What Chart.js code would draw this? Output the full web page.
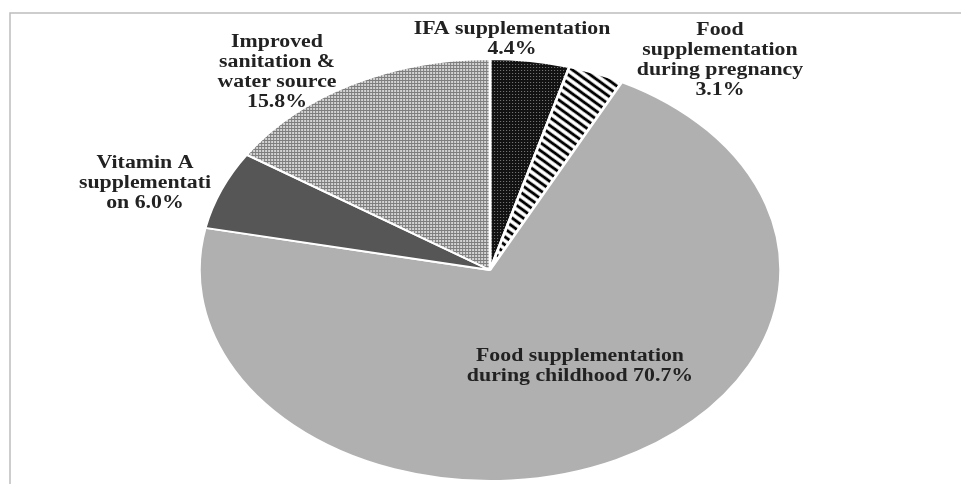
<!DOCTYPE html>
<html lang="en">
<head>
    <meta charset="UTF-8">
    <title>Interventions pie</title>
    <style>
        body {
            margin: 0;
            padding: 0;
            background: #ffffff;
        }
        canvas {
            display: block;
        }
    </style>
</head>
<body>
    <canvas id="pie" width="961" height="484"></canvas>

    <script src="https://cdn.jsdelivr.net/npm/chart.js"></script>
    <script>
        // Data (clockwise from 12 o'clock)
        const categories = [
            "IFA supplementation",
            "Food supplementation during pregnancy",
            "Food supplementation during childhood",
            "Vitamin A supplementation",
            "Improved sanitation & water source"
        ];
        const shares = [4.4, 3.1, 70.7, 6.0, 15.8];

        // Label text as it is wrapped in the picture
        const labelLines = [
            ["IFA supplementation", "4.4%"],
            ["Food", "supplementation", "during pregnancy", "3.1%"],
            ["Food supplementation", "during childhood 70.7%"],
            ["Vitamin A", "supplementati", "on 6.0%"],
            ["Improved", "sanitation &", "water source", "15.8%"]
        ];

        // Layout: where each label block sits (centre x, first line y)
        const labelAnchors = [
            [512, 29],
            [720, 30],
            [580, 356],
            [145, 163],
            [277, 42]
        ];
        const lineGap = 20;
        const stretchX = 292 / 212; // pie is drawn as an ellipse

        // Fill patterns
        function makePattern(size, draw) {
            const c = document.createElement("canvas");
            c.width = size;
            c.height = size;
            const g = c.getContext("2d");
            draw(g, size);
            return c;
        }

        const ctx = document.getElementById("pie").getContext("2d");

        // undo the horizontal stretch so the dots stay square
        function unstretched(p) {
            if (p.setTransform) p.setTransform(new DOMMatrix().scale(1 / stretchX, 1));
            return p;
        }

        const dotsDark = unstretched(ctx.createPattern(makePattern(3, (g) => {
            g.fillStyle = "#121212";
            g.fillRect(0, 0, 3, 3);
            g.fillStyle = "#808080";
            g.fillRect(1, 1, 1, 1);
        }), "repeat"));

        const stripes = ctx.createPattern(makePattern(8, (g, s) => {
            g.fillStyle = "#ffffff";
            g.fillRect(0, 0, s, s);
            g.strokeStyle = "#000000";
            g.lineWidth = 2.6;
            g.beginPath();
            g.moveTo(-2, -2); g.lineTo(s + 2, s + 2);
            g.moveTo(-2, s - 2); g.lineTo(2, s + 2);
            g.moveTo(s - 2, -2); g.lineTo(s + 2, 2);
            g.stroke();
        }), "repeat");

        const checker = unstretched(ctx.createPattern(makePattern(3, (g) => {
            g.fillStyle = "#7e7e7e";
            g.fillRect(0, 0, 3, 3);
            g.fillStyle = "#d4d4d4";
            g.fillRect(0, 0, 2, 2);
        }), "repeat"));

        const fills = [dotsDark, stripes, "#b0b0b0", "#565656", checker];

        // Stretch the round pie into the ellipse of the picture
        const ellipsePlugin = {
            id: "ellipse",
            beforeDatasetsDraw(chart) {
                const arc = chart.getDatasetMeta(0).data[0];
                const c = chart.ctx;
                c.save();
                c.translate(arc.x, arc.y);
                c.scale(stretchX, 1);
                c.translate(-arc.x, -arc.y);
            },
            afterDatasetsDraw(chart) {
                chart.ctx.restore();
            }
        };

        // Frame lines and serif labels
        const labelPlugin = {
            id: "labels",
            beforeDraw(chart) {
                const c = chart.ctx;
                c.save();
                c.strokeStyle = "#bdbdbd";
                c.lineWidth = 1.5;
                c.beginPath();
                c.moveTo(10, chart.height);
                c.lineTo(10, 13);
                c.lineTo(chart.width, 13);
                c.stroke();
                c.restore();
            },
            afterDraw(chart) {
                const c = chart.ctx;
                c.save();
                c.fillStyle = "#222222";
                c.font = "bold 18.5px 'Liberation Serif', 'DejaVu Serif', serif";
                c.textAlign = "center";
                c.textBaseline = "middle";
                labelLines.forEach((lines, i) => {
                    const [x, y] = labelAnchors[i];
                    lines.forEach((line, j) => {
                        c.save();
                        c.translate(x, y + j * lineGap);
                        c.scale(1.18, 1);
                        c.fillText(line, 0, 0);
                        c.restore();
                    });
                });
                c.restore();
            }
        };

        new Chart(ctx, {
            type: "pie",
            data: {
                labels: categories,
                datasets: [{
                    data: shares,
                    backgroundColor: fills,
                    borderColor: "#ffffff",
                    borderWidth: 2,
                }],
            },
            options: {
                responsive: false,
                animation: false,
                devicePixelRatio: 1,
                layout: {
                    padding: { top: 58, bottom: 2, left: 278, right: 259 }
                },
                plugins: {
                    legend: { display: false },
                    tooltip: { enabled: false },
                },
            },
            plugins: [ellipsePlugin, labelPlugin],
        });
    </script>
</body>
</html>
